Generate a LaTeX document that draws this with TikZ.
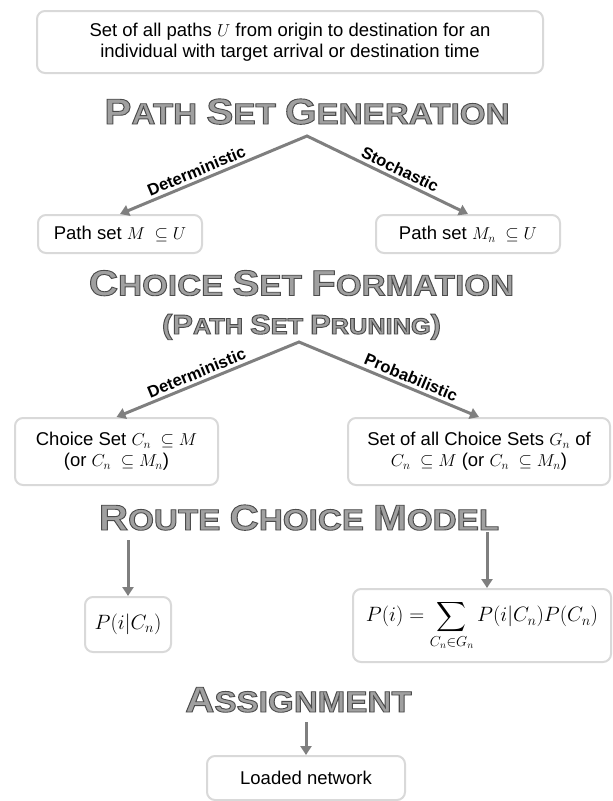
\documentclass[tikz,border=0pt]{standalone}
\usepackage{amsmath}
\usepackage[no-math]{fontspec}
\setmainfont{Liberation Sans}
\usetikzlibrary{arrows.meta}
\definecolor{boxgray}{HTML}{D9D9D9}
\definecolor{arrgray}{HTML}{7F7F7F}
\definecolor{titlefill}{HTML}{A0A0A0}
\newcommand\olt[1]{\scalebox{1.125}[1]{\special{pdf:literal 2 Tr 0.9 w 0.3 0.3 0.3 RG}#1\special{pdf:literal 0 Tr}}}
\newcommand\BG[1]{{\fontsize{36}{36}\selectfont #1}}
\newcommand\BM[1]{{\fontsize{27.5}{28}\selectfont #1}}
\tikzset{
  box/.style={draw=boxgray, line width=2pt, rounded corners=8pt, fill=white, align=center,
    font=\fontsize{18.5}{21}\selectfont, inner sep=0pt},
  mathbox/.style={box, font=\fontsize{20.5}{24}\selectfont},
  arrb/.style={draw=arrgray, line width=3pt, line join=miter,
    {Triangle[length=9pt,width=11pt]}-{Triangle[length=9pt,width=11pt]}},
  arr/.style={draw=arrgray, line width=3pt, -{Triangle[length=9pt,width=11pt]}},
  lbl/.style={font=\bfseries\fontsize{16.5}{18}\selectfont, sloped, above, inner sep=3pt, text=black},
  ttl/.style={text=titlefill, font=\bfseries\fontsize{29.5}{30}\selectfont, inner sep=0pt, anchor=base},
  ttls/.style={text=titlefill, font=\bfseries\fontsize{22.5}{23}\selectfont, inner sep=0pt, anchor=base},
}
\begin{document}
\begin{tikzpicture}[x=1pt,y=-1pt]
\useasboundingbox (0,0) rectangle (613,801);
% top box
\node[box, minimum width=506pt, minimum height=62pt] (top) at (290,42)
  {Set of all paths $U$ from origin to destination for an\\individual with target arrival or destination time};
% path set generation
\coordinate (a1) at (307,136);
\node[box, minimum width=164pt, minimum height=38pt] (pm) at (120,234) {Path set $M\;\subseteq U$};
\node[box, minimum width=184pt, minimum height=38pt] (pmn) at (468,234) {Path set $M_n\;\subseteq U$};
\draw[arrb] (pm.north) -- node[lbl, pos=0.43]{Deterministic} (a1)
  -- node[lbl, pos=0.55]{Stochastic} (pmn.north);
% choice set formation
\coordinate (a2) at (299,342);
\node[box, minimum width=203pt, minimum height=67pt] (cs) at (116.5,451.5)
  {Choice Set $C_n\;\subseteq M$\\(or $C_n\;\subseteq M_n$)};
\node[box, minimum width=262pt, minimum height=67pt] (gs) at (479,451.5)
  {Set of all Choice Sets $G_n$ of\\$C_n\;\subseteq M$ (or $C_n\;\subseteq M_n$)};
\draw[arrb] (cs.north) -- node[lbl, pos=0.46]{Deterministic} (a2)
  -- node[lbl, pos=0.6]{Probabilistic} (gs.north);
% route choice model
\node[mathbox, minimum width=86pt, minimum height=55pt] (pic) at (128,624.5) {$P(i|C_n)$};
\node[mathbox, minimum width=258pt, minimum height=73pt] (psum) at (482,625.5)
  {$\displaystyle P(i) = \sum_{C_n\in G_n} P(i|C_n)P(C_n)$};
\coordinate (r1) at (128,540);
\coordinate (r2) at (487,532);
\draw[arr] (r1) -- (pic.north);
\draw[arr] (r2) -- (r2 |- psum.north);
% assignment
\node[box, minimum width=198pt, minimum height=44pt] (ln) at (306,778) {Loaded network};
\coordinate (r3) at (306,722);
\draw[arr] (r3) -- (ln.north);
% titles (drawn last)
\node[ttl] (t1) at (307,124) {\olt{\BG{P}ATH \BG{S}ET \BG{G}ENERATION}};
\node[ttl] (t2) at (301.5,295.5) {\olt{\BG{C}HOICE \BG{S}ET \BG{F}ORMATION}};
\node[ttls] (t2b) at (301.5,334) {\olt{\BM{(P}ATH \BM{S}ET \BM{P}RUNING\BM{)}}};
\node[ttl] (t3) at (299,530) {\olt{\BG{R}OUTE \BG{C}HOICE \BG{M}ODEL}};
\node[ttl] (t4) at (298.5,712) {\olt{\BG{A}SSIGNMENT}};
\end{tikzpicture}
\end{document}
